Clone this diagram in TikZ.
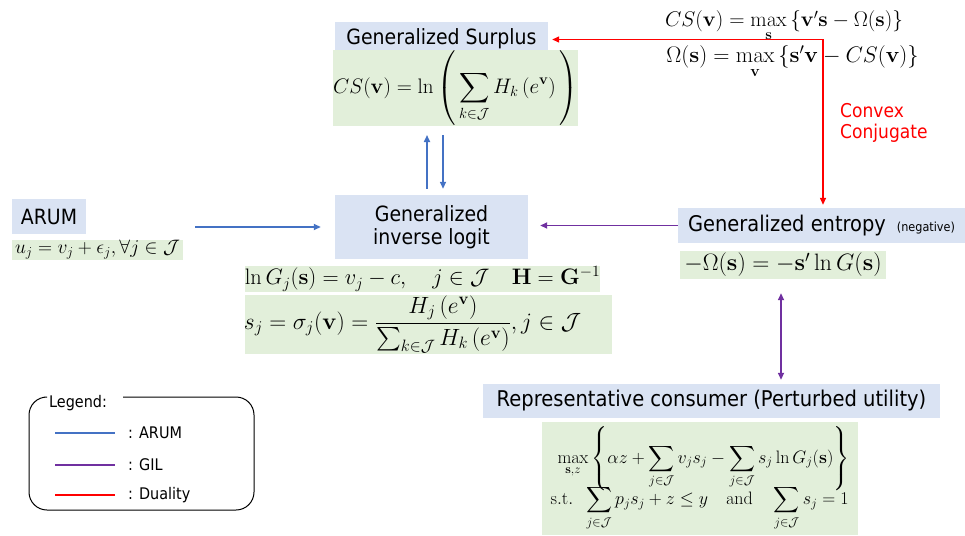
\documentclass[tikz,border=0pt]{standalone}
\usepackage{fix-cm}
\usepackage{amsmath,amssymb}
\usepackage[no-math]{fontspec}
\setmainfont{DejaVu Sans}[FakeStretch=0.9]
\usetikzlibrary{arrows.meta}
\definecolor{boxblue}{RGB}{218,227,243}
\definecolor{boxgreen}{RGB}{226,239,218}
\definecolor{arumblue}{RGB}{68,114,196}
\definecolor{gilpurple}{RGB}{112,48,160}
\definecolor{dualred}{RGB}{255,0,0}
\newcommand{\fs}[1]{\fontsize{#1}{\fpeval{#1*1.2}}\selectfont}
\makeatletter
\newcommand{\myparl}{\bBigg@{3}(}
\newcommand{\myparr}{\bBigg@{3})}
\makeatother
\begin{document}
\begin{tikzpicture}[x=1pt,y=-1pt,
  titlebox/.style={fill=boxblue, inner sep=0pt, font=\fs{21}, align=center, text=black},
  formbox/.style={fill=boxgreen, inner sep=0pt},
  arumline/.style={draw=arumblue, line width=1.6pt, -{Triangle[length=7pt,width=6pt]}},
  gilline/.style={draw=gilpurple, line width=1.6pt},
  dualline/.style={draw=dualred, line width=1.4pt},
  legtext/.style={anchor=west, inner sep=0pt, font=\fs{16}}
]
\useasboundingbox (0,0) rectangle (965,535);

% --- boxes
\node[titlebox, minimum width=213pt, minimum height=33pt] (surplus) at (441.5,38.5) {Generalized Surplus};
\node[formbox, minimum width=241pt, minimum height=60pt] (surpf) at (455.5,88)
  {\fs{21}$\displaystyle CS(\mathbf{v})=\ln\myparl\sum_{k\in\mathcal{J}}H_k\left(e^{\mathbf{v}}\right)\myparr$};

\node[titlebox, minimum width=193pt, minimum height=64pt, font=\fontsize{21}{23}\selectfont] (gil) at (431.5,227) {Generalized\\inverse logit};
\node[formbox, minimum width=355pt, minimum height=26pt] (lng) at (422.5,279)
  {\fs{22.4}$\ln G_j(\mathbf{s})=v_j-c,\quad j\in\mathcal{J}\quad \mathbf{H}=\mathbf{G}^{-1}$};
\node[formbox, minimum width=367pt, minimum height=59pt] (sj) at (428.5,324.5)
  {\hspace*{-32pt}\fs{23.5}$\displaystyle s_j=\sigma_j(\mathbf{v})=\frac{H_j\left(e^{\mathbf{v}}\right)}{\sum_{k\in\mathcal{J}}H_k\left(e^{\mathbf{v}}\right)},j\in\mathcal{J}$};

\node[titlebox, minimum width=74pt, minimum height=35pt] (arum) at (49,216.5) {ARUM};
\node[formbox, minimum width=171pt, minimum height=20pt] (arumf) at (97.5,250)
  {\fs{19.5}$u_j=v_j+\epsilon_j,\forall j\in\mathcal{J}$};

\node[titlebox, minimum width=287pt, minimum height=35pt, font=\fs{21.6}] (ent) at (821.5,225.5)
  {Generalized entropy\hspace{11pt}{\fs{12.5}(negative)}};
\node[formbox, minimum width=206pt, minimum height=28pt] (entf) at (783,265)
  {\fs{23.7}$-\Omega(\mathbf{s})=-\mathbf{s}'\ln G(\mathbf{s})$};

\node[titlebox, minimum width=457pt, minimum height=34pt, font=\fs{21.7}] (rep) at (711.5,401)
  {Representative consumer (Perturbed utility)};
\node[formbox, minimum width=316pt, minimum height=113pt] (repf) at (700,478.5)
  {\fs{18}$\begin{array}{@{}l@{}}
  \hspace{7pt}\displaystyle\max_{\mathbf{s},z}\left\{\alpha z+\sum_{j\in\mathcal{J}}v_js_j-\sum_{j\in\mathcal{J}}s_j\ln G_j(\mathbf{s})\right\}\\[-5pt]
  \displaystyle\mathrm{s.t.}\;\;\sum_{j\in\mathcal{J}}p_js_j+z\le y\quad\mathrm{and}\quad\sum_{j\in\mathcal{J}}s_j=1
  \end{array}$};

% --- duality formulas
\node[inner sep=0pt, anchor=base] (dual1) at (784,27)
  {\fs{21.2}$CS(\mathbf{v})=\max\limits_{\mathbf{s}}\left\{\mathbf{v}'\mathbf{s}-\Omega(\mathbf{s})\right\}$};
\node[inner sep=0pt, anchor=base] (dual2) at (792.5,63)
  {\fs{22.5}$\Omega(\mathbf{s})=\max\limits_{\mathbf{v}}\left\{\mathbf{s}'\mathbf{v}-CS(\mathbf{v})\right\}$};
\node[anchor=west, inner sep=0pt, align=left, text=dualred, font=\fontsize{19}{21}\selectfont] (conv) at (840,123) {Convex\\Conjugate};

% --- connectors
\draw[dualline, {Triangle[length=7pt,width=6pt]}-{Triangle[length=7pt,width=6pt]}, shorten <=3pt, shorten >=4pt]
  ([xshift=1.5pt]ent.north) |- ([yshift=-1pt]surplus.east);

\draw[arumline, shorten <=109pt, shorten >=14pt] (arum.east |- gil.west) -- (gil.west);
\draw[arumline, shorten <=6pt, shorten >=9pt] ([xshift=-4.5pt]gil.north) -- ([xshift=-4.5pt]gil.north |- surpf.south);
\draw[arumline, shorten <=9pt, shorten >=6pt] ([xshift=11.5pt]gil.north |- surpf.south) -- ([xshift=11.5pt]gil.north);

\draw[gilline, -{Triangle[length=7pt,width=6pt]}, shorten >=12pt] (ent.west) -- (ent.west -| gil.east);
\draw[gilline, {Triangle[length=7pt,width=6pt]}-{Triangle[length=7pt,width=6pt]}, shorten <=14pt, shorten >=4pt]
  ([xshift=-2pt]entf.south) -- ([xshift=-2pt]entf.south |- rep.north);

% --- legend
\draw[line width=1pt, rounded corners=18pt] (123,397) -- (254,397) -- (254,510) -- (29,510) -- (29,397) -- (44,397);
\node[legtext] (legtitle) at (49,403) {Legend:};
\node[legtext] (lga) at (128,433) {: ARUM};
\node[legtext] (lgg) at (128,465) {: GIL};
\node[legtext] (lgd) at (128,495) {: Duality};
\coordinate (la) at (55,433);
\coordinate (lg) at (55,465);
\coordinate (ld) at (55,495);
\draw[draw=arumblue, line width=1.8pt, shorten >=13pt] (la) -- (lga.west);
\draw[gilline, line width=1.8pt, shorten >=13pt] (lg) -- (lgg.west);
\draw[dualline, line width=1.8pt, shorten >=13pt] (ld) -- (lgd.west);
\end{tikzpicture}
\end{document}
